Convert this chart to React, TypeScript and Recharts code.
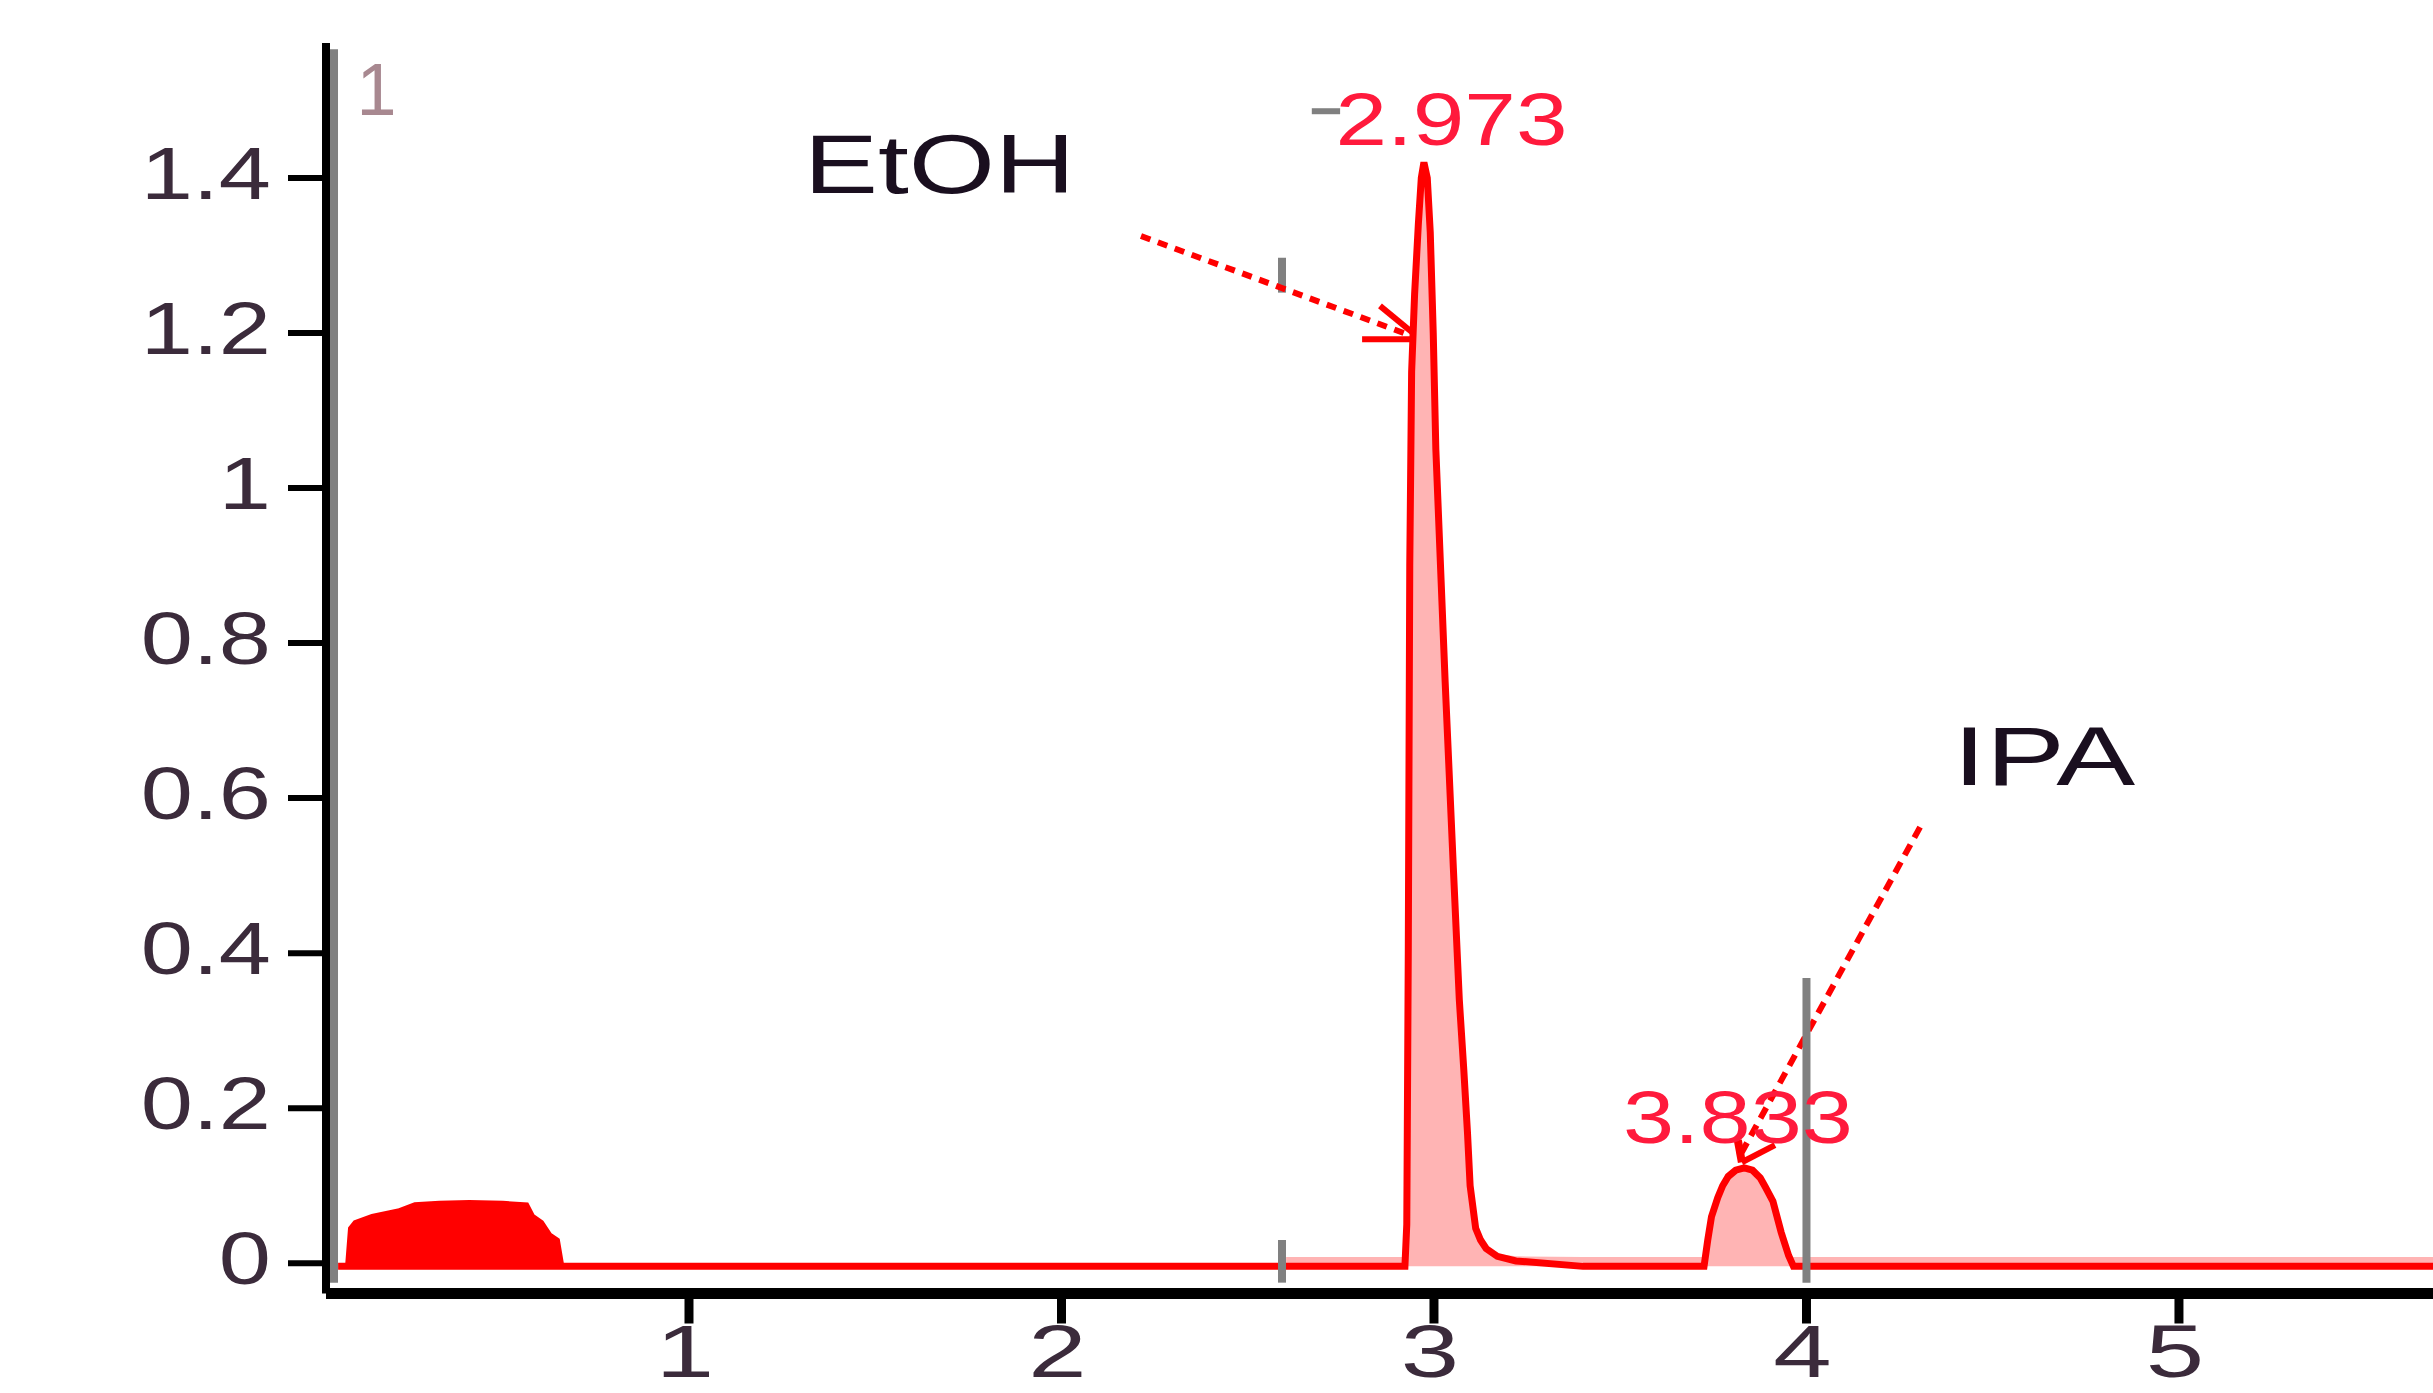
import React from "react";
import {
  ComposedChart,
  Line,
  Area,
  XAxis,
  YAxis,
  ReferenceLine,
  ReferenceDot,
} from "recharts";

// retention time (min) / detector signal
const signal: [number, number][] = [
  [0.058, -0.004], [2.6, -0.004], [2.922, -0.004], [2.927, 0.05], [2.931, 0.4],
  [2.935, 0.9], [2.94, 1.15], [2.948, 1.25], [2.958, 1.34], [2.966, 1.4],
  [2.973, 1.42], [2.982, 1.4], [2.99, 1.33], [2.998, 1.2], [3.005, 1.05],
  [3.03, 0.75], [3.052, 0.51], [3.068, 0.34], [3.08, 0.25], [3.09, 0.168],
  [3.097, 0.1], [3.112, 0.045], [3.125, 0.03], [3.14, 0.019], [3.17, 0.009],
  [3.22, 0.003], [3.4, -0.004], [3.725, -0.004], [3.735, 0.03], [3.745, 0.06],
  [3.762, 0.085], [3.775, 0.1], [3.79, 0.112], [3.81, 0.12], [3.833, 0.123],
  [3.855, 0.12], [3.876, 0.11], [3.89, 0.098], [3.91, 0.08], [3.932, 0.04],
  [3.952, 0.01], [3.965, -0.004], [5.7, -0.004],
];

// integrated (shaded) region from 2.6 min on
const shade: [number, number][] = [
  [2.603, 0.008], [2.918, 0.008], [2.92, 0.03], [2.927, 0.06], [2.931, 0.4],
  [2.935, 0.9], [2.94, 1.15], [2.948, 1.25], [2.958, 1.34], [2.966, 1.4],
  [2.973, 1.42], [2.982, 1.4], [2.99, 1.33], [2.998, 1.2], [3.005, 1.05],
  [3.03, 0.75], [3.052, 0.51], [3.068, 0.34], [3.08, 0.25], [3.09, 0.168],
  [3.097, 0.1], [3.112, 0.045], [3.125, 0.03], [3.14, 0.02], [3.17, 0.012],
  [3.22, 0.009], [3.4, 0.008], [3.72, 0.008], [3.735, 0.03], [3.745, 0.06],
  [3.762, 0.085], [3.775, 0.1], [3.79, 0.112], [3.81, 0.12], [3.833, 0.123],
  [3.855, 0.12], [3.876, 0.11], [3.89, 0.098], [3.91, 0.08], [3.932, 0.04],
  [3.952, 0.012], [3.965, 0.008], [5.7, 0.008],
];

// solvent hump at the start
const solvent: [number, number][] = [
  [0.082, -0.004], [0.09, 0.045], [0.103, 0.053], [0.149, 0.061], [0.219, 0.068],
  [0.264, 0.076], [0.33, 0.078], [0.41, 0.079], [0.5, 0.078], [0.565, 0.076],
  [0.581, 0.061], [0.605, 0.053], [0.627, 0.037], [0.648, 0.03], [0.66, -0.004],
];

const xTicks = [1, 2, 3, 4, 5];
const yTicks = [0, 0.2, 0.4, 0.6, 0.8, 1, 1.2, 1.4];

const peakNames = ["EtOH", "IPA"];
const peakTimes = ["2.973", "3.833"];
const markerTimes = [2.592, 4.0];

const rows = (pts: [number, number][]) => pts.map(([t, v]) => ({ t, v }));

const FONT = '"Liberation Sans", Arial, sans-serif';
const RED = "#ff0000";
const GRAY = "#808080";

const YTick = (props: any) => {
  const { x, y, payload } = props;
  return (
    <text
      transform={`translate(${x} ${y + 21}) scale(1.25 1)`}
      textAnchor="end"
      fontFamily={FONT}
      fontSize={75}
      fill="#3b2b3b"
    >
      {String(payload.value)}
    </text>
  );
};

const XTick = (props: any) => {
  const { x, y, payload } = props;
  return (
    <text
      transform={`translate(${x - 4} ${y + 47}) scale(1.4 1)`}
      textAnchor="middle"
      fontFamily={FONT}
      fontSize={75}
      fill="#3b2b3b"
    >
      {String(payload.value)}
    </text>
  );
};

const label = (text: string, size: number, width: number, color: string) => (p: any) =>
  (
    <text
      x={p.cx}
      y={p.cy}
      textAnchor="middle"
      fontFamily={FONT}
      fontSize={size}
      fill={color}
      textLength={width}
      lengthAdjust="spacingAndGlyphs"
    >
      {text}
    </text>
  );

export default function App() {
  return (
    <div style={{ position: "absolute", left: 0, top: 0, width: 2433, height: 1393, overflow: "hidden", background: "#fff" }}>
      <ComposedChart width={2433} height={1393} margin={{ top: 43, right: 0, bottom: 0, left: 0 }}>
        <XAxis
          type="number"
          dataKey="t"
          domain={[0.0255, 5.682]}
          allowDataOverflow
          ticks={xTicks}
          height={99.5}
          axisLine={{ stroke: "#000", strokeWidth: 11 }}
          tickLine={{ stroke: "#000", strokeWidth: 9 }}
          tickSize={30}
          tickMargin={6}
          tick={<XTick />}
        />
        <YAxis
          type="number"
          domain={[-0.039, 1.574]}
          allowDataOverflow
          ticks={yTicks}
          width={326}
          axisLine={{ stroke: "#000", strokeWidth: 8 }}
          tickLine={{ stroke: "#000", strokeWidth: 6 }}
          tickSize={38}
          tickMargin={17}
          tick={<YTick />}
        />
        <Area
          data={rows(shade)}
          dataKey="v"
          type="linear"
          baseValue={-0.004}
          stroke="none"
          fill="#ffb4b4"
          fillOpacity={1}
          isAnimationActive={false}
        />
        <Area
          data={rows(solvent)}
          dataKey="v"
          type="linear"
          baseValue={-0.004}
          stroke={RED}
          strokeWidth={4}
          fill={RED}
          fillOpacity={1}
          isAnimationActive={false}
        />
        <Line
          data={rows(signal)}
          dataKey="v"
          type="linear"
          stroke={RED}
          strokeWidth={7}
          dot={false}
          activeDot={false}
          isAnimationActive={false}
        />

        {/* gray companion of the y axis */}
        <ReferenceLine segment={[{ x: 0.047, y: -0.025 }, { x: 0.047, y: 1.566 }]} stroke={GRAY} strokeWidth={8} />
        {/* integration start markers */}
        <ReferenceLine segment={[{ x: markerTimes[0], y: -0.025 }, { x: markerTimes[0], y: 0.03 }]} stroke={GRAY} strokeWidth={8} />
        <ReferenceLine segment={[{ x: markerTimes[0], y: 1.252 }, { x: markerTimes[0], y: 1.297 }]} stroke={GRAY} strokeWidth={8} />
        <ReferenceLine segment={[{ x: 2.672, y: 1.486 }, { x: 2.748, y: 1.486 }]} stroke={GRAY} strokeWidth={6} />

        {/* EtOH arrow */}
        <ReferenceLine segment={[{ x: 2.2134, y: 1.325 }, { x: 2.941, y: 1.196 }]} stroke={RED} strokeWidth={6} strokeDasharray="10 8" />
        <ReferenceLine segment={[{ x: 2.855, y: 1.235 }, { x: 2.946, y: 1.199 }]} stroke={RED} strokeWidth={6} />
        <ReferenceLine segment={[{ x: 2.807, y: 1.192 }, { x: 2.944, y: 1.192 }]} stroke={RED} strokeWidth={6} />

        {/* IPA arrow */}
        <ReferenceLine segment={[{ x: 4.305, y: 0.5626 }, { x: 3.8265, y: 0.1432 }]} stroke={RED} strokeWidth={6} strokeDasharray="12 8" />
        <ReferenceLine segment={[{ x: 3.9154, y: 0.1523 }, { x: 3.8265, y: 0.1303 }]} stroke={RED} strokeWidth={6} />
        <ReferenceLine segment={[{ x: 3.8158, y: 0.1587 }, { x: 3.8265, y: 0.1303 }]} stroke={RED} strokeWidth={8} />

        <ReferenceDot x={0.161} y={1.481} r={0} shape={label("1", 75, 40, "#a88890")} />
        <ReferenceDot x={1.6725} y={1.381} r={0} shape={label(peakNames[0], 84, 271, "#1a0f1f")} />
        <ReferenceDot x={3.047} y={1.443} r={0} shape={label(peakTimes[0], 75, 232, "#ff1a3c")} />
        <ReferenceDot x={4.638} y={0.617} r={0} shape={label(peakNames[1], 84, 182, "#1a0f1f")} />
        <ReferenceDot x={3.816} y={0.155} r={0} shape={label(peakTimes[1], 75, 230, "#ff1a3c")} />

        {/* gray marker at 4 min drawn over the label */}
        <ReferenceLine segment={[{ x: markerTimes[1], y: -0.025 }, { x: markerTimes[1], y: 0.368 }]} stroke={GRAY} strokeWidth={8} />
      </ComposedChart>
    </div>
  );
}
